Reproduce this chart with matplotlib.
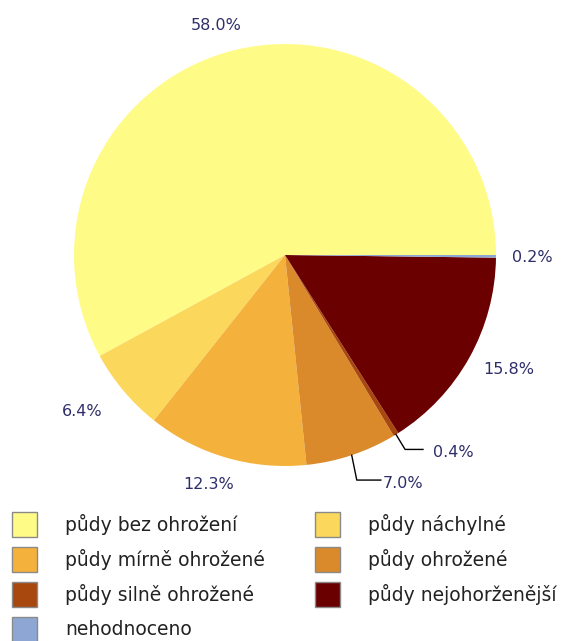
import numpy as np
from matplotlib import pyplot as plt
from matplotlib.patches import Rectangle

# data
categories = ["půdy bez ohrožení", "půdy náchylné", "půdy mírně ohrožené",
              "půdy ohrožené", "půdy silně ohrožené", "půdy nejohorženější",
              "nehodnoceno"]
shares = [58.0, 6.4, 12.3, 7.0, 0.4, 15.8, 0.2]
colors = ["#FFFB87", "#FBD85B", "#F4B23C", "#DA8A2A", "#A8480E", "#6B0000", "#8EA6D4"]

# label placement (pie radius units), alignment, leader line (None = no line)
label_pos = [(-0.327, 1.090, "center"), (-0.962, -0.744, "center"), (-0.360, -1.090, "center"),
             (0.464, -1.081, "left"), (0.701, -0.938, "left"), (0.938, -0.545, "left"),
             (1.076, -0.014, "left")]
leaders = [None, None, None, (0.024, -0.118, 0.114), (0.043, -0.071, 0.085), None, None]

W, H = 563, 641
cx, cy, R = 285, 255, 211

fig = plt.figure(figsize=(W / 100, H / 100), dpi=100)
ax = fig.add_axes([0, 0, 1, 1])

wedges, _ = ax.pie(shares, colors=colors, startangle=0, counterclock=True,
                   radius=1, wedgeprops=dict(linewidth=0, antialiased=True))
ax.set_xlim(-cx / R, (W - cx) / R)
ax.set_ylim(-(H - cy) / R, cy / R)
ax.set_aspect("auto")
ax.axis("off")

txt_color = "#2E2E6A"
for w, val, (lx, ly, ha), ld in zip(wedges, shares, label_pos, leaders):
    ax.text(lx, ly, f"{val:.1f}%", ha=ha, va="center", fontsize=11.5, color=txt_color)
    if ld is not None:
        th = np.deg2rad((w.theta1 + w.theta2) / 2)
        x0, y0 = np.cos(th), np.sin(th)
        x1, y1 = x0 + ld[0], y0 + ld[1]
        ax.plot([x0, x1, x1 + ld[2]], [y0, y1, y1], color="black", linewidth=1)

# legend drawn by hand: two columns
sq = 25
for i, (lab, col) in enumerate(zip(categories, colors)):
    c, r = i % 2, i // 2
    x_sq = 12 if c == 0 else 315
    x_tx = 65 if c == 0 else 368
    y_c = 524.5 + r * 35
    fig.patches.append(Rectangle((x_sq / W, 1 - (y_c + sq / 2) / H), sq / W, sq / H,
                                 transform=fig.transFigure, facecolor=col,
                                 edgecolor="#8a8a8a", linewidth=1))
    fig.text(x_tx / W, 1 - y_c / H, lab, ha="left", va="center",
             fontsize=13.5, color="#222222")

fig.savefig("out.png", dpi=100)
plt.close(fig)
